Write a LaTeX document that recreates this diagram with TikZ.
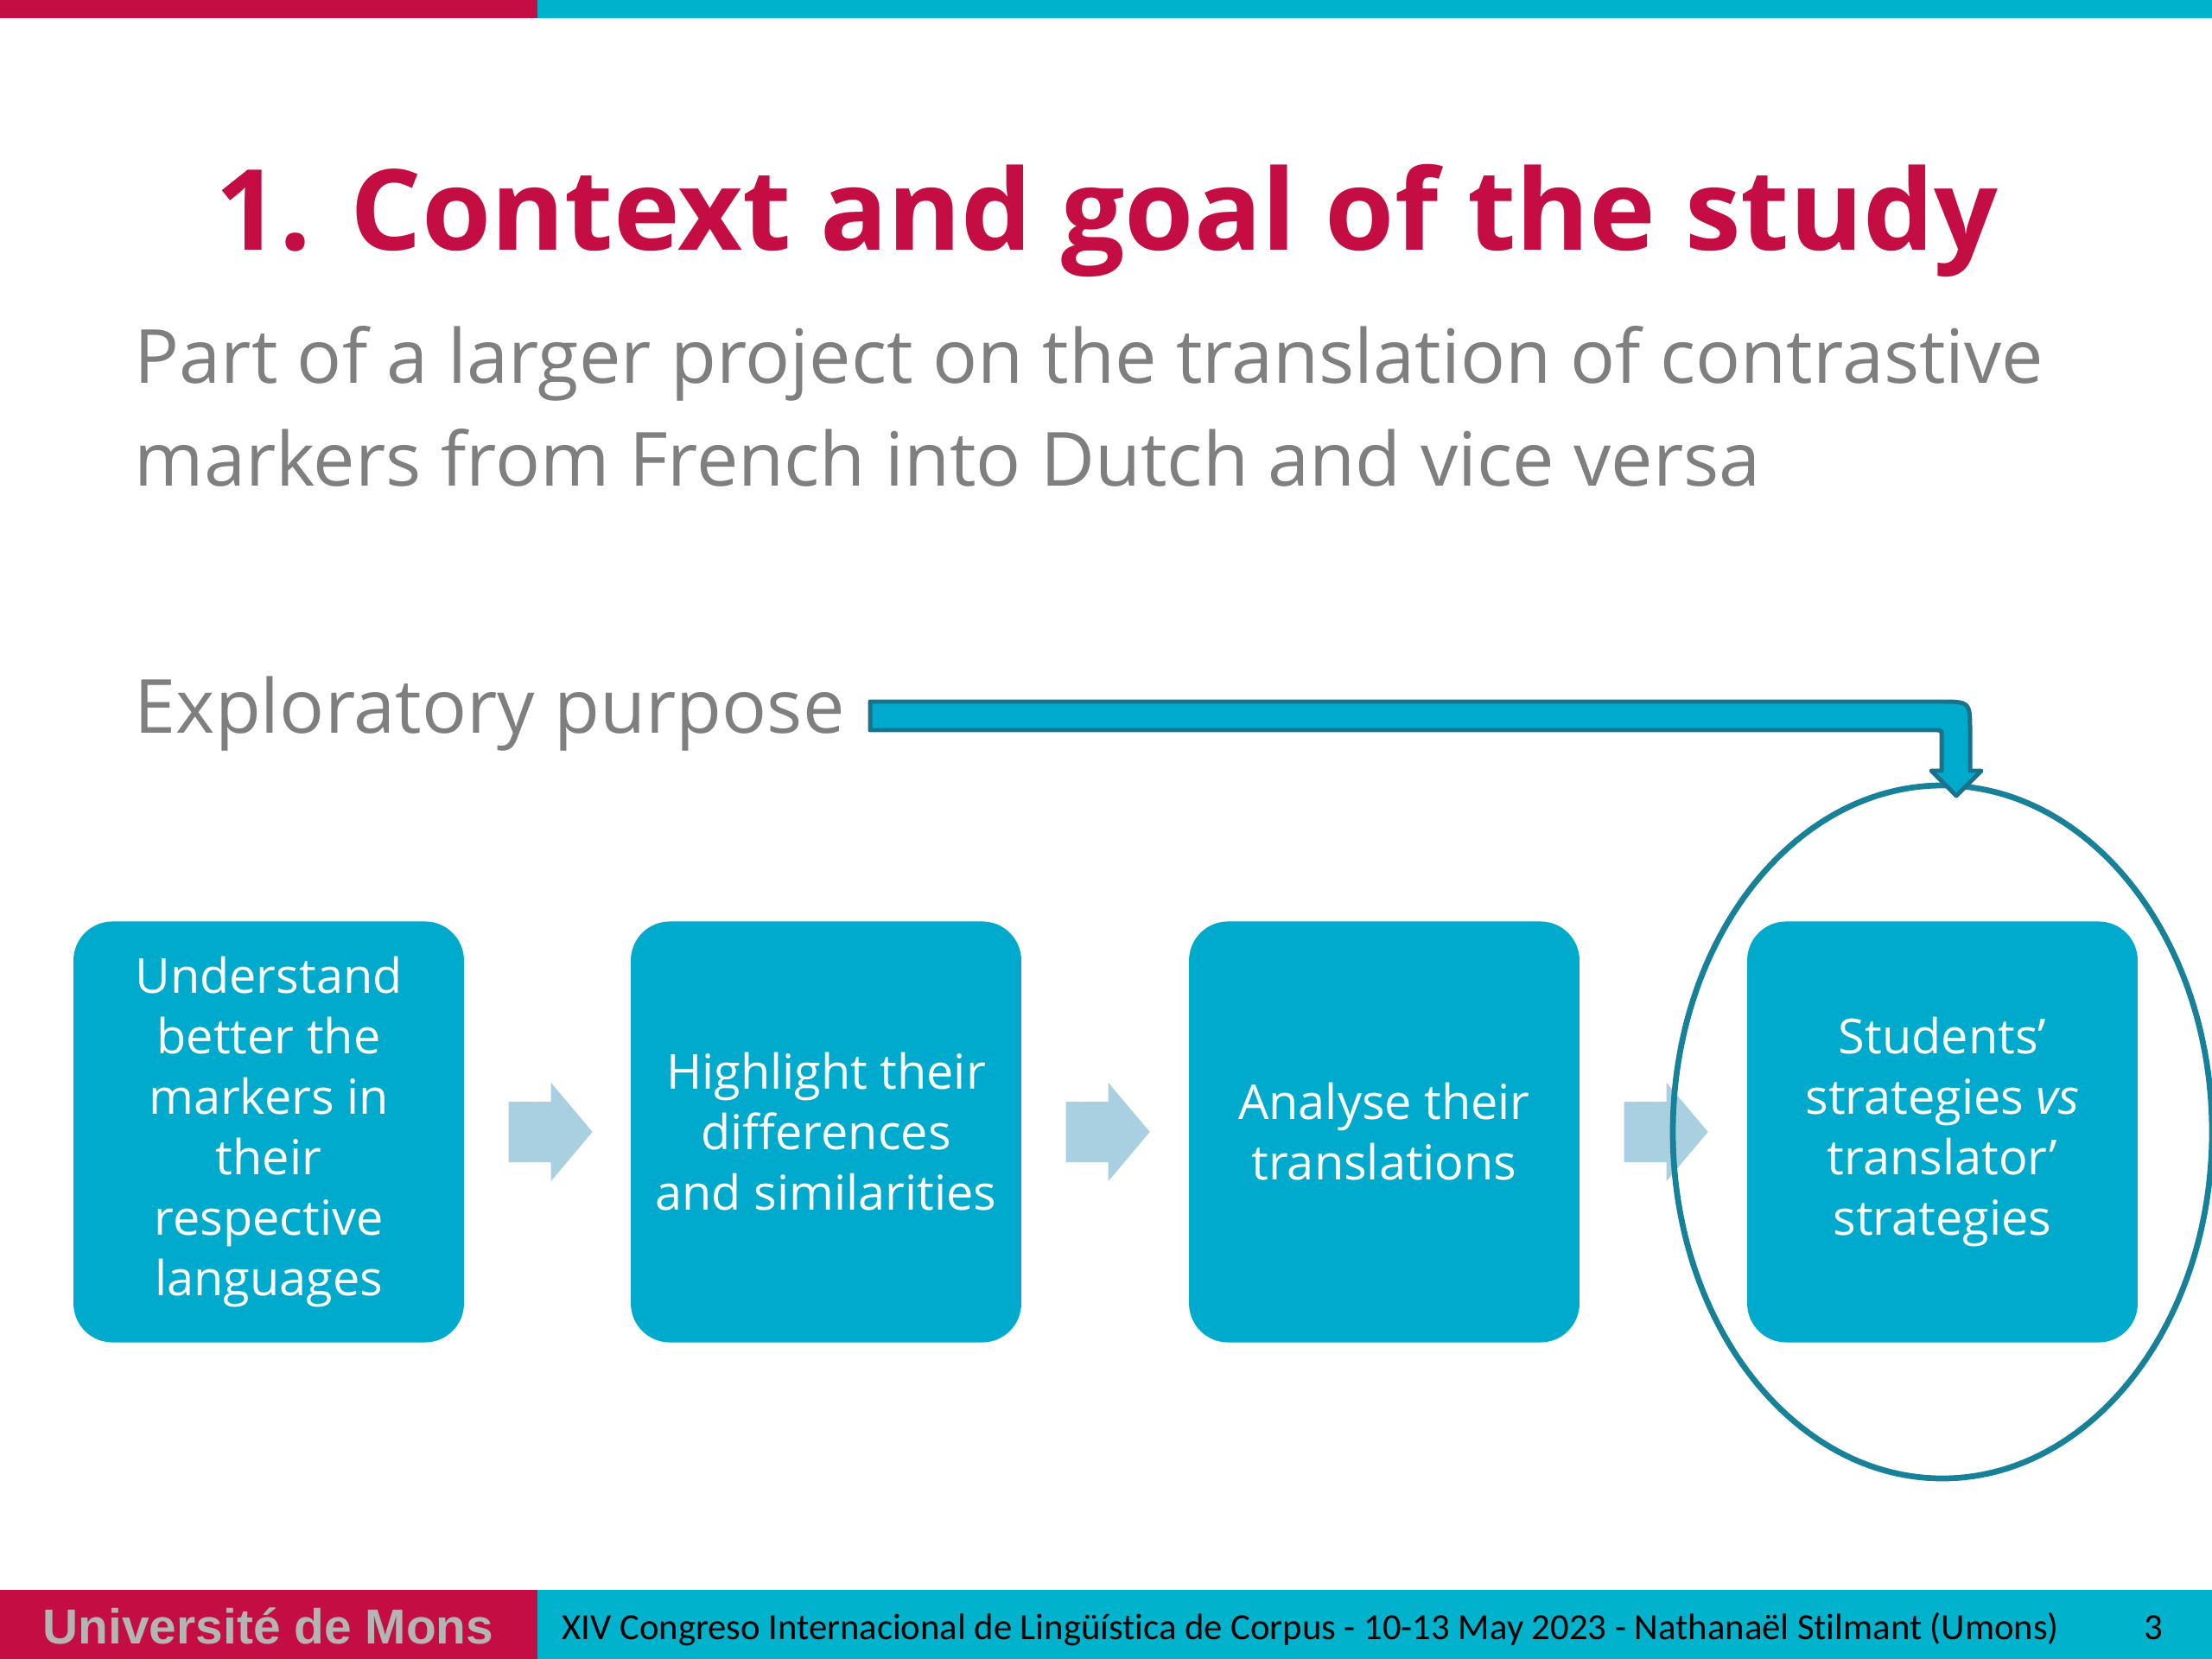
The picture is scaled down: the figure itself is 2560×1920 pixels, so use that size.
\documentclass[tikz,border=0pt]{standalone}
\usepackage{fontspec}
\setmainfont{Open Sans}
\newfontfamily\footfont[Ligatures=NoCommon]{Carlito}
\newfontfamily\umsfont{Liberation Sans}
\usetikzlibrary{calc}
\definecolor{crimson}{HTML}{C40D42}
\definecolor{barteal}{HTML}{00B2CB}
\definecolor{boxteal}{HTML}{00AACD}
\definecolor{lightarr}{HTML}{A8D0E0}
\definecolor{ringteal}{HTML}{17819A}
\definecolor{arrline}{HTML}{1A7189}
\definecolor{graytext}{HTML}{7F7F7F}
\definecolor{umsgray}{HTML}{B4B4B4}
\tikzset{
  stepbox/.style={fill=boxteal, draw=none, rounded corners=12.7pt,
    minimum width=127.1pt, minimum height=137pt, inner sep=0pt,
    text=white, align=center, font=\fontsize{15.7}{19.7}\selectfont},
  bodytext/.style={text=graytext, inner sep=0pt, anchor=base west,
    font=\fontsize{24.3}{33}\selectfont},
  flowarrow/.style={fill=lightarr, draw=none},
}
\begin{document}
\begin{tikzpicture}[x=0.28125pt, y=-0.28125pt]
\useasboundingbox (0,0) rectangle (2560,1920);
% top bars
\fill[crimson] (0,0) rectangle (622,21);
\fill[barteal] (622,0) rectangle (2560,21);
% title
\node[text=crimson, inner sep=0pt, anchor=base, font=\fontsize{36.5}{44}\selectfont\bfseries] (title) at (1281,290) {1. Context and goal of the study};
% body
\node[bodytext] (body1) at (155,444) {Part of a larger project on the translation of contrastive};
\node[bodytext] (body2) at (155,563) {markers from French into Dutch and vice versa};
\node[bodytext] (expl) at (155,849) {Exploratory purpose};
% boxes
\node[stepbox] (b1) at (311,1310) {Understand\\better the\\markers in\\their\\respective\\languages};
\node[stepbox] (b2) at (956,1310) {Highlight their\\differences\\and similarities};
\node[stepbox] (b3) at (1602,1310) {Analyse their\\translations};
\node[stepbox] (b4) at (2248,1310) {Students’\\strategies \textit{vs}\\translator’\\strategies};
% flow arrows
\foreach \a in {b1,b2,b3}{
  \fill[flowarrow] ($(\a.east)+(51,-35)$) -- ++(49,0) -- ++(0,-22) -- ++(48,57) -- ++(-48,57) -- ++(0,-22) -- ++(-49,0) -- cycle;
}
% ellipse around last box
\draw[ringteal, line width=1.9pt] (b4.center) ellipse [x radius=312, y radius=401];
% bent arrow
\coordinate (astart) at (1007,828);
\filldraw[fill=boxteal, draw=arrline, line width=1.4pt, line join=round]
  ($(astart)+(0,-16)$) -- (2245,812) .. controls (2280,812) .. (2280,847)
  -- (2280,892) -- (2293,892) -- (2264,921) -- (2235,892) -- (2247,892)
  -- (2247,852) .. controls (2247,845) .. (2240,845) -- ($(astart)+(0,17)$) -- cycle;
% footer
\fill[crimson] (0,1840) rectangle (622,1920);
\fill[barteal] (622,1840) rectangle (2560,1920);
\node[text=umsgray, inner sep=0pt, anchor=base west, font=\umsfont\fontsize{16}{19}\selectfont\bfseries] (ums) at (49,1902) {Université de Mons};
\node[text=black, inner sep=0pt, anchor=base west, font=\footfont\fontsize{12}{15}\selectfont] (conf) at (650,1897) {XIV Congreso Internacional de Lingüística de Corpus - 10-13 May 2023 - Nathanaël Stilmant (Umons)};
\node[text=black, inner sep=0pt, anchor=base west, font=\footfont\fontsize{12}{15}\selectfont] (pnum) at (2481,1897) {3};
\end{tikzpicture}
\end{document}
